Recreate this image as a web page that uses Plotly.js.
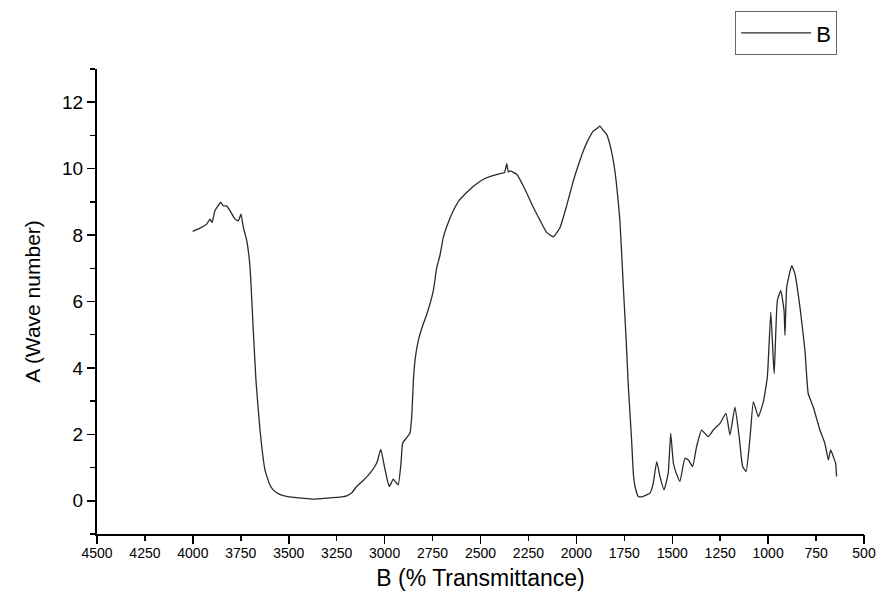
<!DOCTYPE html>
<html>
<head>
<meta charset="utf-8">
<script src="https://cdn.plot.ly/plotly-3.0.1.min.js"></script>
<style>html,body{margin:0;padding:0;background:#fff;}#chart{width:881px;height:596px;}</style>
</head>
<body>
<div id="chart"></div>
<script>
// Wavenumber (cm-1)
const wavenumber = [4001,3963,3928,3911,3900,3885,3855,3841,3824,3806,3780,3763,3749,3737,3719,3702,3685,3671,3650,3624,3600,3581,3550,3511,3470,3430,3372,3320,3250,3198,3170,3146,3110,3076,3040,3020,3000,2985,2975,2955,2940,2929,2915,2906,2885,2868,2858,2850,2840,2824,2800,2781,2746,2729,2711,2694,2670,2642,2610,2572,2530,2485,2440,2398,2375,2363,2355,2346,2311,2270,2224,2190,2155,2120,2085,2050,2016,1990,1964,1940,1912,1895,1877,1860,1842,1820,1799,1785,1773,1755,1740,1729,1720,1712,1703,1694,1677,1660,1633,1616,1600,1581,1564,1543,1521,1508,1494,1476,1460,1434,1416,1394,1373,1347,1312,1286,1251,1220,1199,1173,1151,1133,1115,1094,1077,1051,1025,1004,986,973,968,952,934,917,912,903,877,860,834,808,791,765,730,704,686,674,660,648,643];
// Series B values
const seriesB = [8.11,8.21,8.33,8.48,8.38,8.73,8.98,8.88,8.88,8.73,8.48,8.43,8.63,8.23,7.83,7.03,5.13,3.63,2.13,0.93,0.5,0.33,0.2,0.13,0.1,0.08,0.05,0.07,0.1,0.15,0.25,0.43,0.62,0.83,1.15,1.55,1.0,0.6,0.43,0.65,0.55,0.48,1.1,1.73,1.9,2.03,2.6,3.63,4.3,4.83,5.3,5.6,6.33,7.0,7.4,7.93,8.35,8.73,9.05,9.28,9.5,9.68,9.78,9.85,9.88,10.15,9.9,9.93,9.83,9.4,8.83,8.45,8.08,7.95,8.23,8.9,9.63,10.1,10.53,10.85,11.13,11.2,11.28,11.15,11.03,10.6,9.93,9.2,8.43,6.43,4.8,3.43,2.6,1.83,0.83,0.43,0.13,0.12,0.18,0.23,0.5,1.18,0.73,0.33,0.83,2.03,1.13,0.78,0.58,1.28,1.23,1.03,1.63,2.13,1.93,2.13,2.33,2.63,1.98,2.83,1.93,1.03,0.88,1.93,2.98,2.53,2.98,3.73,5.68,4.23,3.83,6.03,6.33,5.73,4.98,6.43,7.08,6.83,5.83,4.53,3.23,2.83,2.13,1.73,1.23,1.53,1.33,1.13,0.73];
const seriesName = "B";
const xTitle = "B (% Transmittance)";
const yTitle = "A (Wave number)";

const font = "Arial, 'Liberation Sans', sans-serif";

const traces = [
  {
    x: wavenumber, y: seriesB, name: seriesName, type: "scatter", mode: "lines",
    line: {color: "#2a2a2a", width: 1.3, shape: "spline", smoothing: 0.4}
  },
  {
    x: wavenumber, y: seriesB, xaxis: "x2", type: "scatter", mode: "lines",
    line: {color: "rgba(0,0,0,0)", width: 0}, showlegend: false, hoverinfo: "skip"
  }
];

const layout = {
  width: 881, height: 596,
  margin: {l: 97, r: 17, t: 68, b: 62},
  paper_bgcolor: "#fff", plot_bgcolor: "#fff",
  font: {family: font, color: "#000"},
  showlegend: true,
  legend: {
    x: 0.832, y: 1.122, xanchor: "left", yanchor: "top",
    bordercolor: "#666", borderwidth: 1, bgcolor: "#fff",
    font: {size: 22, family: font}, itemwidth: 70,
    tracegroupgap: 0
  },
  xaxis: {
    range: [4500, 500], dtick: 250, tick0: 500,
    showgrid: false, zeroline: false,
    showline: true, linecolor: "#000", linewidth: 2,
    ticks: "outside", ticklen: 5, tickwidth: 1.5, tickcolor: "#000",
    tickfont: {size: 14, family: font},
    title: {text: xTitle, font: {size: 23, family: font}, standoff: 10}
  },
  xaxis2: {
    overlaying: "x", anchor: "y", side: "bottom",
    range: [4500, 500], dtick: 500, tick0: 500,
    showgrid: false, zeroline: false, showline: false,
    ticks: "outside", ticklen: 9, tickwidth: 1.5, tickcolor: "#000",
    showticklabels: false
  },
  yaxis: {
    range: [-1, 13], dtick: 2, tick0: 0,
    showgrid: false, zeroline: false,
    showline: true, linecolor: "#000", linewidth: 2,
    ticks: "outside", ticklen: 8, tickwidth: 1.5, tickcolor: "#000",
    minor: {dtick: 1, ticks: "outside", ticklen: 5, tickwidth: 1.5, tickcolor: "#000"},
    tickfont: {size: 19, family: font},
    title: {text: yTitle, font: {size: 21, family: font}, standoff: 16}
  }
};

Plotly.newPlot("chart", traces, layout, {displayModeBar: false, staticPlot: true});
</script>
</body>
</html>
